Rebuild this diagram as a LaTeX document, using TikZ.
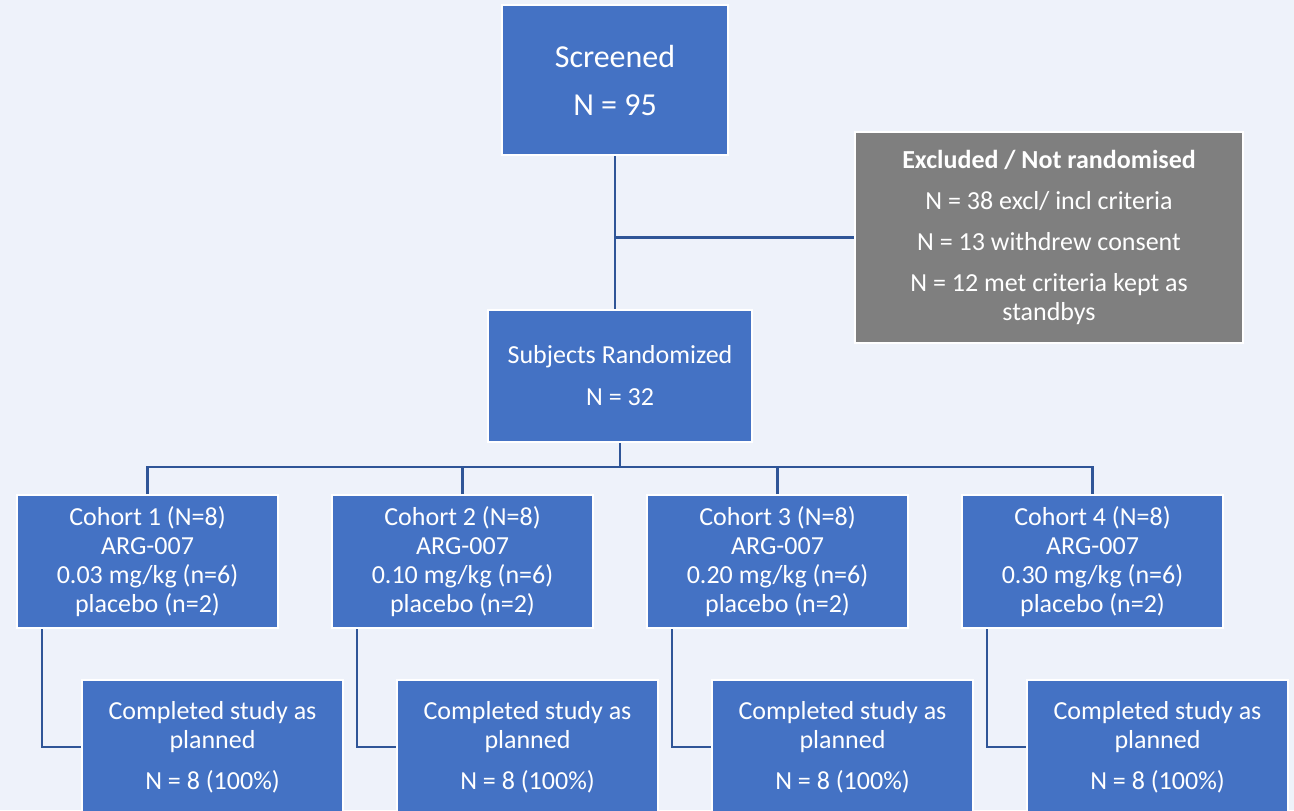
\documentclass[tikz,border=0pt]{standalone}
\usepackage{fontspec}
\setmainfont{Carlito}
\definecolor{boxblue}{RGB}{68,114,196}
\definecolor{boxgray}{RGB}{127,127,127}
\definecolor{linkblue}{RGB}{47,85,151}
\definecolor{bgcol}{RGB}{238,242,250}

\begin{document}
\begin{tikzpicture}[x=0.5pt,y=-0.5pt]

\tikzset{box/.style = {draw=white, line width=1pt, fill=boxblue, text=white, align=center, inner sep=0pt, font=\fontsize{13}{14.5}\selectfont}}
\tikzset{cohort/.style = {box, minimum width=130.5pt, minimum height=66.5pt}}
\tikzset{done/.style = {box, minimum width=130.5pt, minimum height=67pt}}
\tikzset{link/.style = {draw=linkblue, line width=1.2pt}}
\useasboundingbox (0,0) rectangle (1294,810);
\fill[bgcol] (0,0) rectangle (1294,810);
\clip (0,0) rectangle (1294,810);
%boxes
\node[box, minimum width=113pt, minimum height=75pt, font=\fontsize{16}{19.5}\selectfont] (screened) at (615,80) {Screened\\[4.5pt] N = 95};
\node[box, fill=boxgray, minimum width=194pt, minimum height=105.5pt] (excluded) at (1049,237.5) {\textbf{Excluded / Not randomised}\\[6pt] N = 38 excl/ incl criteria\\[6pt] N = 13 withdrew consent\\[6pt] N = 12 met criteria kept as\\ standbys};
\node[box, minimum width=132pt, minimum height=66pt] (rand) at (620,376) {Subjects Randomized\\[6.5pt] N = 32};
\node[cohort] (c1) at (147.5,561.5) {Cohort 1 (N=8)\\ ARG-007\\ 0.03 mg/kg (n=6)\\ placebo (n=2)};
\node[cohort] (c2) at (462.5,561.5) {Cohort 2 (N=8)\\ ARG-007\\ 0.10 mg/kg (n=6)\\ placebo (n=2)};
\node[cohort] (c3) at (777.5,561.5) {Cohort 3 (N=8)\\ ARG-007\\ 0.20 mg/kg (n=6)\\ placebo (n=2)};
\node[cohort] (c4) at (1092.5,561.5) {Cohort 4 (N=8)\\ ARG-007\\ 0.30 mg/kg (n=6)\\ placebo (n=2)};
\node[done] (d1) at (212.5,747) {Completed study as\\ planned\\[6pt] N = 8 (100\%)};
\node[done] (d2) at (527.5,747) {Completed study as\\ planned\\[6pt] N = 8 (100\%)};
\node[done] (d3) at (842.5,747) {Completed study as\\ planned\\[6pt] N = 8 (100\%)};
\node[done] (d4) at (1157.5,747) {Completed study as\\ planned\\[6pt] N = 8 (100\%)};
\coordinate (bus) at (620,467);
%edges
\draw[link] (screened.south) -- (screened.south |- rand.north);
\draw[link] (screened.south |- excluded.west) -- (excluded.west);
\draw[link] (rand.south) -- (rand.south |- bus);
\draw[link] (c1.north) |- (c4.north |- bus) -- (c4.north);
\draw[link] (c2.north) -- (c2.north |- bus);
\draw[link] (c3.north) -- (c3.north |- bus);
\draw[link] ([xshift=13pt]c1.south west) |- (d1.west);
\draw[link] ([xshift=13pt]c2.south west) |- (d2.west);
\draw[link] ([xshift=13pt]c3.south west) |- (d3.west);
\draw[link] ([xshift=13pt]c4.south west) |- (d4.west);

\end{tikzpicture}
\end{document}
